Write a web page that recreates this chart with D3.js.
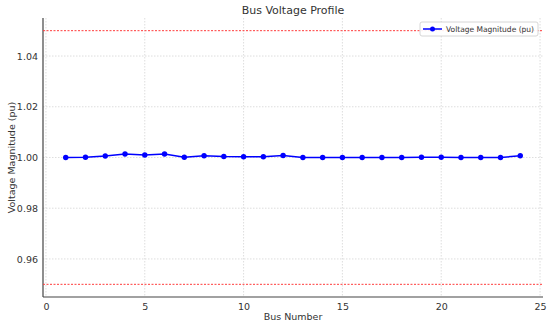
<!DOCTYPE html>
<html><head><meta charset="utf-8">
<script src="https://cdn.jsdelivr.net/npm/d3@7"></script>
<style>body{margin:0;background:#fff}svg{display:block;font-family:"DejaVu Sans",sans-serif}</style>
</head><body><svg id="c" width="550" height="324"></svg>
<script>
const buses = [1,2,3,4,5,6,7,8,9,10,11,12,13,14,15,16,17,18,19,20,21,22,23,24];
const voltages = [1.0000,1.0001,1.0006,1.0014,1.0010,1.0014,1.0001,1.0007,1.0004,1.0003,1.0003,1.0008,1.0000,1.0000,1.0000,1.0000,1.0000,1.0000,1.0001,1.0001,1.0000,1.0000,1.0000,1.0007];
const limits = [0.95, 1.05];
const xTicks = [0,5,10,15,20,25];
const yTicks = [0.96,0.98,1.00,1.02,1.04];
const title = "Bus Voltage Profile";
const xLabel = "Bus Number";
const yLabel = "Voltage Magnitude (pu)";
const legendLabel = "Voltage Magnitude (pu)";

const svg = d3.select("#c");
const L=43, R=543, T=18, B=297;
const x = d3.scaleLinear().domain([-0.15,25.15]).range([L,R]);
const y = d3.scaleLinear().domain([0.945,1.055]).range([B,T]);

// grid
svg.append("g").selectAll("line").data(xTicks).join("line")
  .attr("x1",d=>x(d)).attr("x2",d=>x(d)).attr("y1",T).attr("y2",B)
  .attr("stroke","#d6d6d6").attr("stroke-width",0.8).attr("stroke-dasharray","1.5,1.5");
svg.append("g").selectAll("line").data(yTicks).join("line")
  .attr("y1",d=>y(d)).attr("y2",d=>y(d)).attr("x1",L).attr("x2",R)
  .attr("stroke","#d6d6d6").attr("stroke-width",0.8).attr("stroke-dasharray","1.5,1.5");

// axes
const xa = svg.append("g").attr("transform",`translate(0,${B})`)
  .call(d3.axisBottom(x).tickValues(xTicks).tickSize(0).tickPadding(6).tickFormat(d3.format("d")));
const ya = svg.append("g").attr("transform",`translate(${L},0)`)
  .call(d3.axisLeft(y).tickValues(yTicks).tickSize(0).tickPadding(5).tickFormat(d3.format(".2f")));
[xa,ya].forEach(a=>{
  a.select(".domain").attr("stroke","#444").attr("stroke-width",1.2);
  a.selectAll("text").attr("fill","#333").style("font-size","9.5px").style("font-family","DejaVu Sans");
});
xa.select(".domain").attr("d",`M${L},0H${R}`);
ya.select(".domain").attr("d",`M0,${T}V${B}`);

// limit lines
svg.append("g").selectAll("line").data(limits).join("line")
  .attr("x1",L).attr("x2",R).attr("y1",d=>y(d)).attr("y2",d=>y(d))
  .attr("stroke","#ff3b3b").attr("stroke-width",1).attr("stroke-dasharray","2,1.5");

// series
const data = buses.map((b,i)=>({b,v:voltages[i]}));
svg.append("path").datum(data)
  .attr("d",d3.line().x(d=>x(d.b)).y(d=>y(d.v)))
  .attr("fill","none").attr("stroke","#0000ff").attr("stroke-width",1.5);
svg.append("g").selectAll("circle").data(data).join("circle")
  .attr("cx",d=>x(d.b)).attr("cy",d=>y(d.v)).attr("r",2.7).attr("fill","#0000ff");

// labels
svg.append("text").attr("x",(L+R)/2).attr("y",14).attr("text-anchor","middle")
  .style("font-size","11px").attr("fill","#333").text(title);
svg.append("text").attr("x",(L+R)/2).attr("y",320).attr("text-anchor","middle")
  .style("font-size","9.5px").attr("fill","#333").text(xLabel);
svg.append("text").attr("transform",`translate(15,${(T+B)/2}) rotate(-90)`).attr("text-anchor","middle")
  .style("font-size","9.5px").attr("fill","#333").text(yLabel);

// legend
const lg = svg.append("g");
lg.append("rect").attr("x",420).attr("y",22).attr("width",118).attr("height",14).attr("rx",2)
  .attr("fill","#fff").attr("fill-opacity",0.9).attr("stroke","#ccc").attr("stroke-width",0.8);
lg.append("line").attr("x1",423).attr("x2",442).attr("y1",29).attr("y2",29).attr("stroke","#0000ff").attr("stroke-width",1.5);
lg.append("circle").attr("cx",432.5).attr("cy",29).attr("r",2.5).attr("fill","#0000ff");
lg.append("text").attr("x",446).attr("y",32).attr("textLength",88).attr("lengthAdjust","spacingAndGlyphs")
  .style("font-size","7.8px").attr("fill","#333").text(legendLabel);
</script></body></html>
